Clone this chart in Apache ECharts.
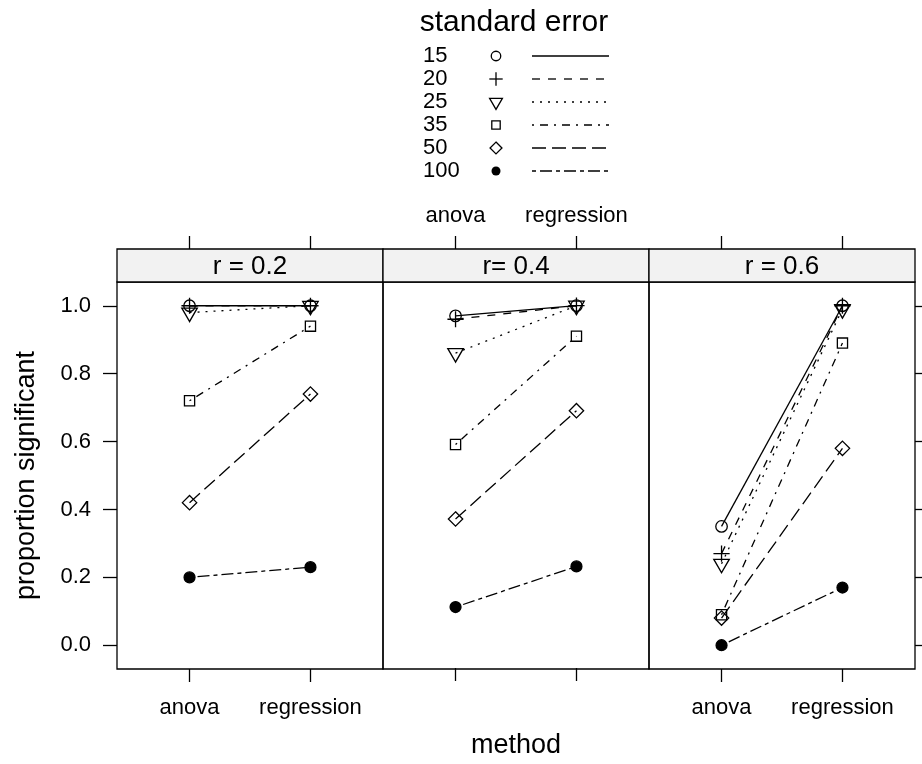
<!DOCTYPE html>
<html>
<head>
<meta charset="utf-8">
<title>proportion significant by method</title>
<script src="https://cdn.jsdelivr.net/npm/echarts@6.0.0/dist/echarts.min.js"></script>
<style>
    html, body { margin: 0; padding: 0; background: #fff; }
    #chart { width: 922px; height: 764px; }
</style>
</head>
<body>
<div id="chart"></div>
<script>
    // ---- data ----
    var methods = ['anova', 'regression'];
    var panelNames = ['r = 0.2', 'r= 0.4', 'r = 0.6'];
    var seLevels = ['15', '20', '25', '35', '50', '100'];
    var yTicks = [0, 0.2, 0.4, 0.6, 0.8, 1.0];

    // proportion significant: one row per standard error, [anova, regression]
    var r02 = [[1.00, 1.00], [1.00, 1.00], [0.98, 1.00], [0.72, 0.94], [0.42, 0.74], [0.20, 0.23]];
    var r04 = [[0.97, 1.00], [0.96, 1.00], [0.86, 1.00], [0.59, 0.91], [0.37, 0.69], [0.11, 0.23]];
    var r06 = [[0.35, 1.00], [0.27, 1.00], [0.24, 0.99], [0.09, 0.89], [0.08, 0.58], [0.00, 0.17]];
    var panelData = [r02, r04, r06];

    // ---- look ----
    var FONT = '"Liberation Sans", Arial, sans-serif';
    var U = 2; // dash unit (R lty hex digits)
    var lineTypes = ['solid', [4 * U, 4 * U], [U, 3 * U], [U, 3 * U, 4 * U, 3 * U], [7 * U, 3 * U], [2 * U, 2 * U, 6 * U, 2 * U]];
    var LW = 1.3;
    var D = 11.5; // circle diameter in panels
    var CLEAR = 'rgba(0,0,0,0)';
    var symbolDefs = [
        { symbol: 'circle', size: D, fill: CLEAR },
        { symbol: 'path://M0,5L10,5M5,0L5,10', size: D * 1.41, fill: CLEAR },
        { symbol: 'triangle', size: [D * 1.35, D * 1.17], rotate: 180, offset: [0, D * 1.17 / 6], fill: CLEAR },
        { symbol: 'rect', size: D * 0.886, fill: CLEAR },
        { symbol: 'diamond', size: D * 1.25, fill: CLEAR },
        { symbol: 'circle', size: D * 0.95, fill: '#000' }
    ];

    var L = 117, T = 282, W = 266, H = 387, STRIP = 33;

    var grids = [], xAxes = [], yAxes = [], series = [], graphics = [];

    panelNames.forEach(function (pname, i) {
        grids.push({ left: L + W * i, top: T, width: W, height: H, show: false });

        var xBase = {
            gridIndex: i, type: 'value', min: 0.4, max: 2.6,
            axisLine: { show: false, onZero: false },
            splitLine: { show: false },
            axisTick: { show: true, customValues: [1, 2], length: 13, lineStyle: { color: '#000', width: LW } },
            axisLabel: {
                customValues: [1, 2], color: '#000', fontSize: 22, fontFamily: FONT,
                formatter: function (v) { return methods[Math.round(v) - 1]; }
            }
        };
        // bottom axis (labels on outer panels)
        xAxes.push(echarts.util.merge(echarts.util.clone(xBase), {
            position: 'bottom',
            axisLabel: { show: i !== 1, margin: 28 },
            name: i === 1 ? 'method' : '',
            nameLocation: 'middle', nameGap: 64,
            nameTextStyle: { color: '#000', fontSize: 27, fontFamily: FONT }
        }));
        // top axis, sits above the strip
        xAxes.push(echarts.util.merge(echarts.util.clone(xBase), {
            position: 'top', offset: STRIP,
            axisLabel: { show: i === 1, margin: 22 }
        }));

        var yAx = {
            gridIndex: i, type: 'value', min: -0.07, max: 1.07,
            position: i === 2 ? 'right' : 'left',
            axisLine: { show: false, onZero: false },
            splitLine: { show: false },
            axisTick: { show: i !== 1, customValues: yTicks, length: 14, lineStyle: { color: '#000', width: LW } },
            axisLabel: {
                show: i === 0, customValues: yTicks, margin: 26,
                color: '#000', fontSize: 22, fontFamily: FONT,
                formatter: function (v) { return v.toFixed(1); }
            }
        };
        if (i === 0) {
            yAx.name = 'proportion significant';
            yAx.nameLocation = 'middle';
            yAx.nameRotate = 90;
            yAx.nameGap = 77;
            yAx.nameTextStyle = { color: '#000', fontSize: 27, fontFamily: FONT };
        }
        yAxes.push(yAx);

        // one line per standard error
        panelData[i].forEach(function (vals, k) {
            var s = symbolDefs[k];
            series.push({
                type: 'line', name: seLevels[k],
                xAxisIndex: 2 * i, yAxisIndex: i,
                data: vals.map(function (v, j) { return [j + 1, v]; }),
                symbol: s.symbol, symbolSize: s.size,
                symbolRotate: s.rotate || 0, symbolOffset: s.offset || [0, 0],
                showSymbol: true, clip: false,
                lineStyle: { color: '#000', width: LW, type: lineTypes[k] },
                itemStyle: { color: s.fill, borderColor: '#000', borderWidth: LW },
                emphasis: { disabled: true }, silent: true
            });
        });

        // panel box
        graphics.push({
            type: 'rect', z: 10,
            shape: { x: L + W * i, y: T, width: W, height: H },
            style: { fill: null, stroke: '#000', lineWidth: LW }
        });
        // strip
        graphics.push({
            type: 'rect', z: 10,
            shape: { x: L + W * i, y: T - STRIP, width: W, height: STRIP },
            style: { fill: '#f2f2f2', stroke: '#000', lineWidth: LW }
        });
        graphics.push({
            type: 'text', z: 11, x: L + W * i + W / 2, y: T - STRIP / 2 + 1,
            style: { text: pname, fill: '#000', font: '26px ' + FONT, textAlign: 'center', textVerticalAlign: 'middle' }
        });
    });

    // ---- key ----
    var keyTitleX = 514, keyTitleY = 23;
    var keyLabelX = 423, keySymX = 496, keyLineX0 = 532, keyLineX1 = 609;
    var keyY0 = 56, keyStep = 23;
    var d = 9.5;

    graphics.push({
        type: 'text', x: keyTitleX, y: keyTitleY,
        style: { text: 'standard error', fill: '#000', font: '30px ' + FONT, textAlign: 'center', textVerticalAlign: 'middle' }
    });

    function keySymbol(k, cx, cy) {
        var r = d / 2;
        var st = { fill: 'none', stroke: '#000', lineWidth: LW };
        switch (k) {
            case 0:
                return [{ type: 'circle', shape: { cx: cx, cy: cy, r: r }, style: st }];
            case 1:
                var p = r * 1.41;
                return [
                    { type: 'line', shape: { x1: cx - p, y1: cy, x2: cx + p, y2: cy }, style: st },
                    { type: 'line', shape: { x1: cx, y1: cy - p, x2: cx, y2: cy + p }, style: st }
                ];
            case 2:
                var a = r * 1.555, b = r * 0.778, c = r * 1.347;
                return [{ type: 'polygon', shape: { points: [[cx - c, cy - b], [cx + c, cy - b], [cx, cy + a]] }, style: st }];
            case 3:
                var q = r * 0.886;
                return [{ type: 'rect', shape: { x: cx - q, y: cy - q, width: 2 * q, height: 2 * q }, style: st }];
            case 4:
                var m = r * 1.253;
                return [{ type: 'polygon', shape: { points: [[cx, cy - m], [cx + m, cy], [cx, cy + m], [cx - m, cy]] }, style: st }];
            default:
                return [{ type: 'circle', shape: { cx: cx, cy: cy, r: r * 0.95 }, style: { fill: '#000' } }];
        }
    }

    seLevels.forEach(function (lab, k) {
        var y = keyY0 + keyStep * k;
        graphics.push({
            type: 'text', x: keyLabelX, y: y,
            style: { text: lab, fill: '#000', font: '22px ' + FONT, textAlign: 'left', textVerticalAlign: 'middle' }
        });
        keySymbol(k, keySymX, y).forEach(function (g) { graphics.push(g); });
        var t = lineTypes[k];
        graphics.push({
            type: 'line',
            shape: { x1: keyLineX0, y1: y, x2: keyLineX1, y2: y },
            style: { stroke: '#000', lineWidth: LW, lineDash: t === 'solid' ? null : t }
        });
    });

    var myChart = echarts.init(document.getElementById('chart'), null, { renderer: 'canvas' });
    myChart.setOption({
        animation: false,
        backgroundColor: '#fff',
        grid: grids,
        xAxis: xAxes,
        yAxis: yAxes,
        series: series,
        graphic: graphics
    });
</script>
</body>
</html>
